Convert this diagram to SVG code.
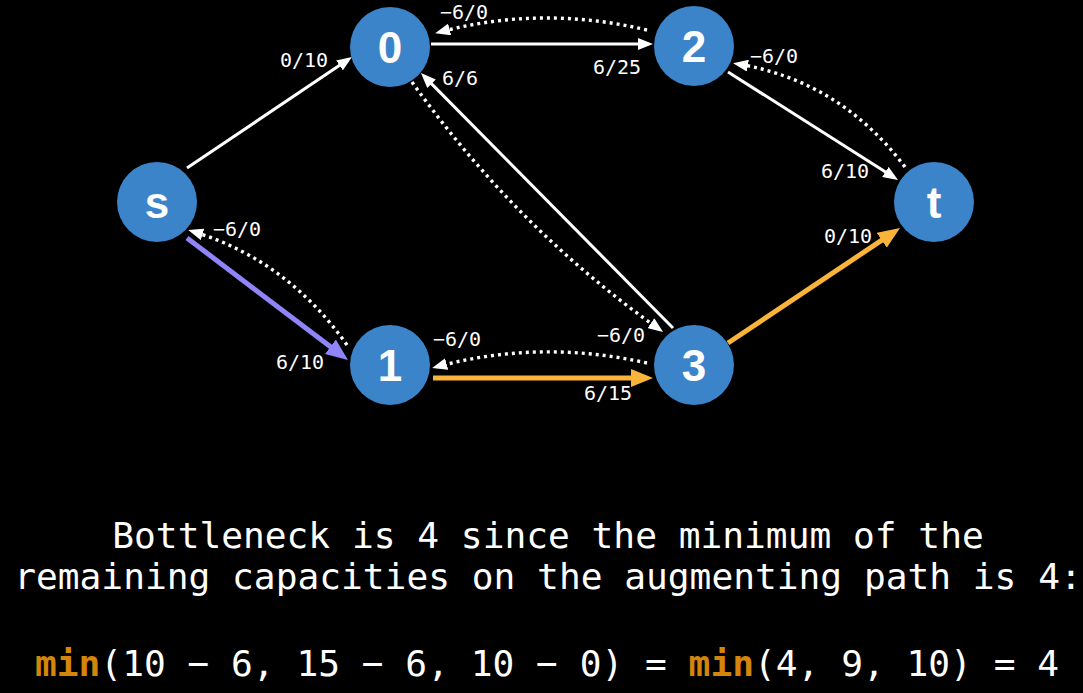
<svg xmlns="http://www.w3.org/2000/svg" width="1083" height="693" viewBox="0 0 1083 693">
<style>
.node circle{fill:#3b84c9;}
.node text{font-family:"Liberation Sans",Arial,sans-serif;font-weight:bold;font-size:44px;fill:#ffffff;text-anchor:middle;}
.solid{fill:none;stroke:#ffffff;stroke-width:3;}
.dot{fill:none;stroke:#ffffff;stroke-width:3.4;stroke-dasharray:3 4;}
.purple{fill:none;stroke:#8f84f8;stroke-width:5;}
.orange{fill:none;stroke:#fbb43a;stroke-width:5;}
.lbl{font-family:"DejaVu Sans Mono",monospace;font-size:20px;fill:#ffffff;}
.cap{font-family:"DejaVu Sans Mono",monospace;font-size:36.2px;fill:#ffffff;text-anchor:middle;}
.kw{font-weight:bold;fill:#d4860b;}
</style>
<defs>
<marker id="aw" markerUnits="userSpaceOnUse" markerWidth="15" markerHeight="12" refX="10" refY="6" orient="auto"><path d="M0,0 L15,6 L0,12 z" fill="#ffffff"/></marker>
<marker id="ap" markerUnits="userSpaceOnUse" markerWidth="22" markerHeight="18" refX="15" refY="9" orient="auto"><path d="M0,0 L22,9 L0,18 z" fill="#8f84f8"/></marker>
<marker id="ao" markerUnits="userSpaceOnUse" markerWidth="22" markerHeight="18" refX="15" refY="9" orient="auto"><path d="M0,0 L22,9 L0,18 z" fill="#fbb43a"/></marker>
</defs>
<rect width="1083" height="693" fill="#000000"/>
<g id="connectors">
<path class="solid" d="M187,168 L347.8,59.8" marker-end="url(#aw)"/>
<path class="solid" d="M431,44 L648,44" marker-end="url(#aw)"/>
<path class="dot" d="M647,30 Q541,5 440,32" marker-end="url(#aw)"/>
<path class="solid" d="M728,72 L893.8,177.3" marker-end="url(#aw)"/>
<path class="dot" d="M905,167 Q840,81 738,64" marker-end="url(#aw)"/>
<path class="solid" d="M673,328 L424.5,76.6" marker-end="url(#aw)"/>
<path class="dot" d="M412,82 Q516,228 659,329" marker-end="url(#aw)"/>
<path class="purple" d="M187,238 L342.4,355.8" marker-end="url(#ap)"/>
<path class="dot" d="M347,345 Q287,260 193,231.5" marker-end="url(#aw)"/>
<path class="orange" d="M433,378 L646,378" marker-end="url(#ao)"/>
<path class="dot" d="M647,363 Q540,339 437,366.7" marker-end="url(#aw)"/>
<path class="orange" d="M728,343 L894.2,231.9" marker-end="url(#ao)"/>
<text class="lbl" x="280" y="67">0/10</text>
<text class="lbl" x="440" y="19">−6/0</text>
<text class="lbl" x="442" y="85">6/6</text>
<text class="lbl" x="593" y="74">6/25</text>
<text class="lbl" x="750" y="63">−6/0</text>
<text class="lbl" x="821" y="178">6/10</text>
<text class="lbl" x="824" y="243">0/10</text>
<text class="lbl" x="213" y="236">−6/0</text>
<text class="lbl" x="276" y="369">6/10</text>
<text class="lbl" x="433" y="346">−6/0</text>
<text class="lbl" x="597" y="342">−6/0</text>
<text class="lbl" x="584" y="400">6/15</text>
</g>
<g id="node-s" class="node"><circle cx="157" cy="202" r="40"/><text x="157" y="218">s</text></g>
<g id="node-0" class="node"><circle cx="390" cy="47" r="40"/><text x="390" y="63">0</text></g>
<g id="node-2" class="node"><circle cx="694" cy="46" r="40"/><text x="694" y="62">2</text></g>
<g id="node-t" class="node"><circle cx="934" cy="202" r="40"/><text x="934" y="218">t</text></g>
<g id="node-1" class="node"><circle cx="390" cy="365" r="40"/><text x="390" y="381">1</text></g>
<g id="node-3" class="node"><circle cx="694" cy="365" r="40"/><text x="694" y="381">3</text></g>
<text class="cap" x="548" y="548">Bottleneck is 4 since the minimum of the</text>
<text class="cap" x="548" y="589">remaining capacities on the augmenting path is 4:</text>
<text class="cap" x="547" y="676"><tspan class="kw">min</tspan>(10 − 6, 15 − 6, 10 − 0) = <tspan class="kw">min</tspan>(4, 9, 10) = 4</text>
</svg>
